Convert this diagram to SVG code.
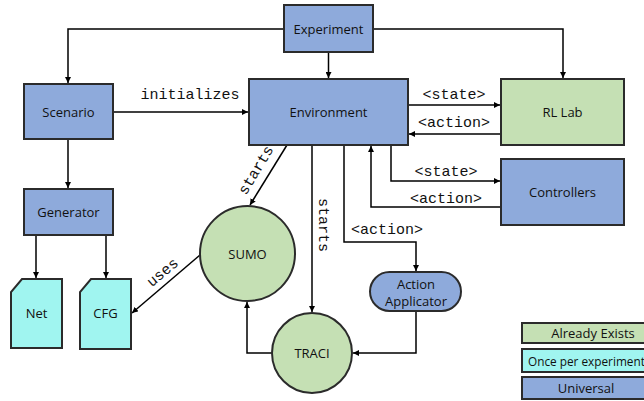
<svg xmlns="http://www.w3.org/2000/svg" width="644" height="401" viewBox="0 0 644 401">
<defs>
<marker id="arr" viewBox="0 0 10 10" refX="10" refY="5" markerWidth="6" markerHeight="6" markerUnits="userSpaceOnUse" orient="auto">
<path d="M0,0 L10,5 L0,10 z" fill="#000"/>
</marker>
<style>
.blue{fill:#8eaadb;stroke:#2b2b2b;stroke-width:2}
.green{fill:#c5e0b4;stroke:#2b2b2b;stroke-width:2}
.cyan{fill:#a0f5f0;stroke:#2b2b2b;stroke-width:2}
.t{font-family:"Open Sans","Noto Sans",sans-serif;font-size:13px;fill:#111;text-anchor:middle;dominant-baseline:central}
.m{font-family:"Liberation Mono","Courier New",monospace;font-size:15px;fill:#111;text-anchor:middle}
.c{fill:none;stroke:#000;stroke-width:1.5;marker-end:url(#arr)}
</style>
</defs>
<rect width="644" height="401" fill="#fff"/>
<g id="connectors">
<polyline class="c" points="284,29 68,29 68,83"/>
<polyline class="c" points="373,29 563,29 563,78"/>
<line class="c" x1="328.5" y1="52" x2="328.5" y2="78"/>
<line class="c" x1="113" y1="112" x2="248" y2="112"/>
<line class="c" x1="68" y1="139" x2="68" y2="188"/>
<line class="c" x1="36" y1="235" x2="36" y2="278"/>
<line class="c" x1="106" y1="235" x2="106" y2="278"/>
<line class="c" x1="408" y1="105" x2="500" y2="105"/>
<line class="c" x1="501" y1="134" x2="409" y2="134"/>
<polyline class="c" points="391,145 391,181 500,181"/>
<polyline class="c" points="501,207 371,207 371,146"/>
<line class="c" x1="287" y1="145" x2="250" y2="205"/>
<line class="c" x1="312" y1="145" x2="312" y2="312"/>
<polyline class="c" points="344,145 344,242 416,242 416,271"/>
<polyline class="c" points="416,311 416,353 353,353"/>
<polyline class="c" points="272,353 247,353 247,302"/>
<line class="c" x1="200" y1="255" x2="132" y2="313"/>
<text class="m" x="190" y="99">initializes</text>
<text class="m" x="454" y="99">&lt;state&gt;</text>
<text class="m" x="454" y="127">&lt;action&gt;</text>
<text class="m" x="446" y="176">&lt;state&gt;</text>
<text class="m" x="446" y="203">&lt;action&gt;</text>
<text class="m" x="387" y="234">&lt;action&gt;</text>
<text class="m" transform="translate(260,172.5) rotate(-59)">starts</text>
<text class="m" transform="translate(318.5,225) rotate(90)">starts</text>
<text class="m" transform="translate(165.5,276) rotate(-40)">uses</text>
</g>
<g id="experiment"><rect class="blue" x="284" y="5" width="89" height="47"/><text class="t" x="328.5" y="28.5">Experiment</text></g>
<g id="scenario"><rect class="blue" x="24" y="84" width="89" height="55"/><text class="t" x="68.5" y="111.5">Scenario</text></g>
<g id="environment"><rect class="blue" x="249" y="79" width="159" height="66"/><text class="t" x="328.5" y="112">Environment</text></g>
<g id="rllab"><rect class="green" x="501" y="79" width="123" height="66"/><text class="t" x="562.5" y="112">RL Lab</text></g>
<g id="controllers"><rect class="blue" x="501" y="159" width="123" height="66"/><text class="t" x="562.5" y="192">Controllers</text></g>
<g id="generator"><rect class="blue" x="24" y="189" width="89" height="46"/><text class="t" x="68.5" y="212">Generator</text></g>
<g id="net"><path class="cyan" d="M22,279 L62,279 L62,348 L11,348 L11,292 z"/><text class="t" x="36.5" y="313">Net</text></g>
<g id="cfg"><path class="cyan" d="M91,279 L131,279 L131,349 L80,349 L80,292 z"/><text class="t" x="105.5" y="313">CFG</text></g>
<g id="sumo"><circle class="green" cx="247.5" cy="253.5" r="47.5"/><text class="t" x="247.5" y="254">SUMO</text></g>
<g id="traci"><circle class="green" cx="312" cy="353" r="40"/><text class="t" x="312" y="353">TRACI</text></g>
<g id="action-applicator"><rect class="blue" x="370" y="272" width="91" height="39" rx="19.5"/><text class="t" x="416" y="284">Action</text><text class="t" x="416" y="301">Applicator</text></g>
<g id="legend">
<rect class="green" x="522" y="323" width="140" height="20"/><text class="t" x="593" y="333">Already Exists</text>
<rect class="cyan" x="522" y="349" width="140" height="23"/><text class="t" x="528" y="360.5" style="text-anchor:start;font-size:11.8px">Once per experiment</text>
<rect class="blue" x="522" y="377" width="140" height="22"/><text class="t" x="586" y="388">Universal</text>
</g>
</svg>
